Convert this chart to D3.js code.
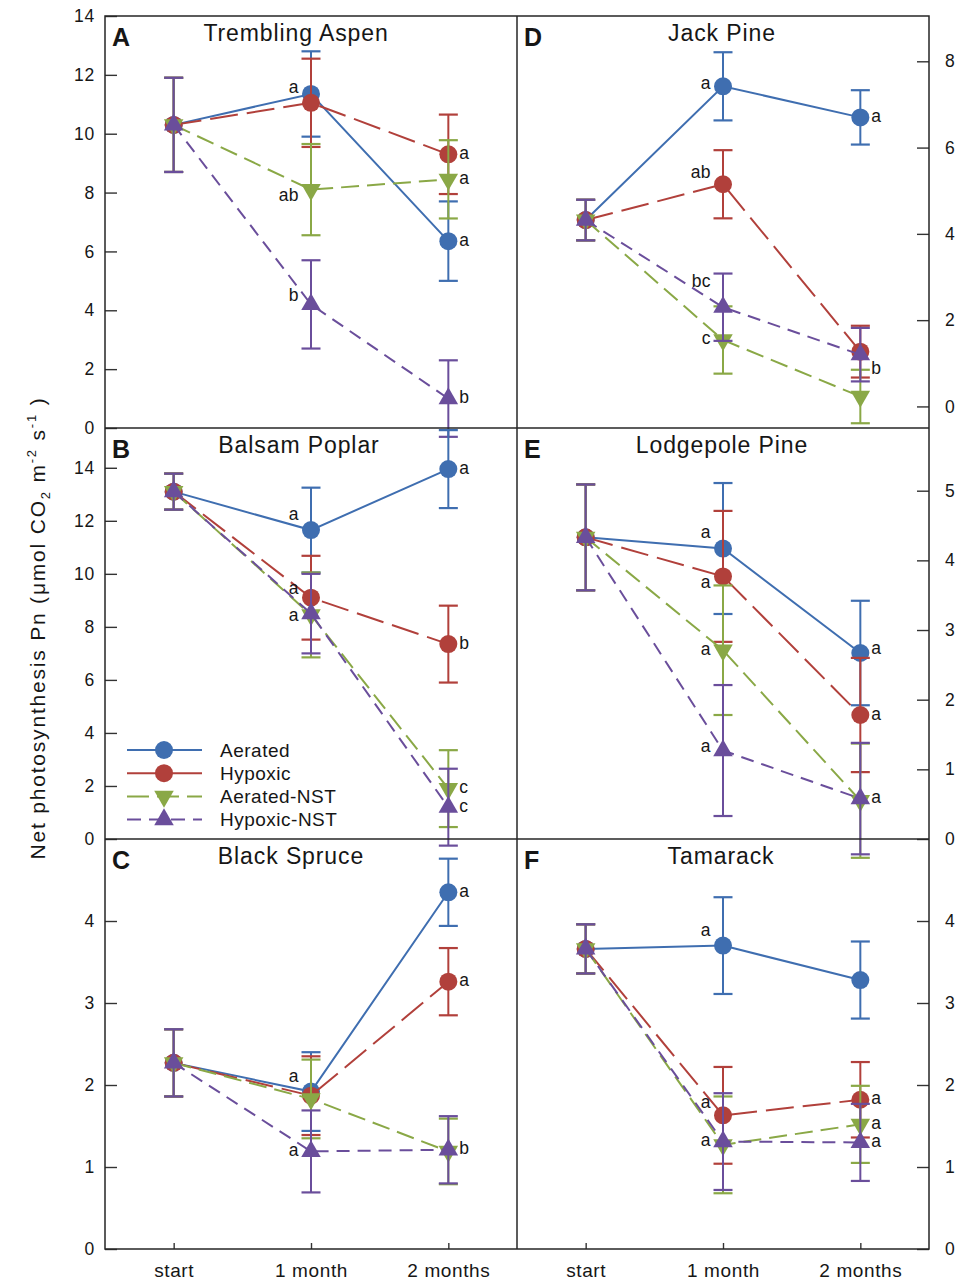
<!DOCTYPE html>
<html>
<head>
<meta charset="utf-8">
<script src="https://cdn.jsdelivr.net/npm/d3@7"></script>
<style>
  body { margin: 0; background: #fff; }
  svg { display: block; }
  text { font-family: "Liberation Sans", Arial, sans-serif; fill: #161616; }
</style>
</head>
<body>
<svg id="chart" width="956" height="1285"></svg>
<script>
// ---- data: net photosynthesis, mean and error per treatment (rows) and time (columns)
const timepoints = ["start", "1 month", "2 months"];
const treatments = ["Aerated", "Hypoxic", "Aerated-NST", "Hypoxic-NST"];

// Trembling Aspen
const aspenMeans  = [[10.3, 11.35, 6.35], [10.3, 11.05, 9.3], [10.3, 8.1, 8.45], [10.3, 4.2, 1.0]];
const aspenErrors = [[1.6, 1.45, 1.35], [1.6, 1.5, 1.35], [1.6, 1.55, 1.33], [1.6, 1.5, 1.3]];
const aspenLetters = [[0, 1, "a"], [2, 1, "ab"], [3, 1, "b"], [1, 2, "a"], [2, 2, "a"], [0, 2, "a"], [3, 2, "b"]];
const aspenTicks = [0, 2, 4, 6, 8, 10, 12, 14];

// Balsam Poplar
const poplarMeans  = [[13.1, 11.65, 13.95], [13.1, 9.1, 7.35], [13.1, 8.45, 1.9], [13.1, 8.5, 1.2]];
const poplarErrors = [[0.68, 1.6, 1.47], [0.68, 1.58, 1.45], [0.68, 1.6, 1.45], [0.68, 1.5, 1.45]];
const poplarLetters = [[0, 1, "a"], [1, 1, "a"], [3, 1, "a"], [0, 2, "a"], [1, 2, "b"], [2, 2, "c"], [3, 2, "c"]];
const poplarTicks = [0, 2, 4, 6, 8, 10, 12, 14];

// Black Spruce
const spruceMeans  = [[2.27, 1.92, 4.35], [2.27, 1.87, 3.26], [2.27, 1.83, 1.19], [2.27, 1.19, 1.21]];
const spruceErrors = [[0.41, 0.48, 0.41], [0.41, 0.48, 0.41], [0.41, 0.48, 0.4], [0.41, 0.5, 0.41]];
const spruceLetters = [[0, 1, "a"], [3, 1, "a"], [0, 2, "a"], [1, 2, "a"], [3, 2, "b"]];
const spruceTicks = [0, 1, 2, 3, 4];

// Jack Pine
const jackMeans  = [[4.32, 7.42, 6.7], [4.32, 5.15, 1.27], [4.32, 1.54, 0.23], [4.32, 2.3, 1.2]];
const jackErrors = [[0.47, 0.79, 0.63], [0.47, 0.79, 0.6], [0.47, 0.78, 0.62], [0.47, 0.78, 0.62]];
const jackLetters = [[0, 1, "a"], [1, 1, "ab"], [3, 1, "bc"], [2, 1, "c"], [0, 2, "a"], [1, 2, "b"]];
const jackTicks = [0, 2, 4, 6, 8];

// Lodgepole Pine
const lodgepoleMeans  = [[4.33, 4.17, 2.67], [4.33, 3.77, 1.78], [4.33, 2.71, 0.55], [4.33, 1.27, 0.58]];
const lodgepoleErrors = [[0.76, 0.94, 0.75], [0.76, 0.94, 0.82], [0.76, 0.93, 0.82], [0.76, 0.94, 0.8]];
const lodgepoleLetters = [[0, 1, "a"], [1, 1, "a"], [2, 1, "a"], [3, 1, "a"], [0, 2, "a"], [1, 2, "a"], [3, 2, "a"]];
const lodgepoleTicks = [0, 1, 2, 3, 4, 5];

// Tamarack
const tamarackMeans  = [[3.66, 3.7, 3.28], [3.66, 1.63, 1.82], [3.66, 1.27, 1.52], [3.66, 1.31, 1.3]];
const tamarackErrors = [[0.3, 0.59, 0.47], [0.3, 0.59, 0.46], [0.3, 0.59, 0.47], [0.3, 0.59, 0.47]];
const tamarackLetters = [[0, 1, "a"], [1, 1, "a"], [3, 1, "a"], [1, 2, "a"], [2, 2, "a"], [3, 2, "a"]];
const tamarackTicks = [0, 1, 2, 3, 4];

// ---- appearance
const colors = ["#3f6eb0", "#b1403b", "#8aa846", "#6a4e9b"];
const dashes = [null, "28,9", "18,8", "13,8"];
const legendDashes = [null, null, "22,8", "14,8"];
const symbols = ["circle", "circle", "down", "up"];

const colX = [[105, 517], [517, 929]];
const rowY = [[16, 428], [428, 839], [839, 1249]];

const panels = [
  { letter: "A", title: "Trembling Aspen", col: 0, row: 0, titleX: 296, domain: [0, 14],
    means: aspenMeans, errors: aspenErrors, letters: aspenLetters, ticks: aspenTicks,
    nudge: [-5, 7, -8, 0, 0, 0, 0] },
  { letter: "B", title: "Balsam Poplar", col: 0, row: 1, titleX: 299, domain: [0, 15.5],
    means: poplarMeans, errors: poplarErrors, letters: poplarLetters, ticks: poplarTicks,
    nudge: [-15, -8, 3, 0, 0, 0, 0], legend: true },
  { letter: "C", title: "Black Spruce", col: 0, row: 2, titleX: 291, domain: [0, 5],
    means: spruceMeans, errors: spruceErrors, letters: spruceLetters, ticks: spruceTicks,
    nudge: [-14, 0, 0, 0, 0], xAxis: true },
  { letter: "D", title: "Jack Pine", col: 1, row: 0, titleX: 722, domain: [-0.5, 9.05],
    means: jackMeans, errors: jackErrors, letters: jackLetters, ticks: jackTicks,
    nudge: [-2, -11, -25, 0, 0, 18] },
  { letter: "E", title: "Lodgepole Pine", col: 1, row: 1, titleX: 722, domain: [0, 5.9],
    means: lodgepoleMeans, errors: lodgepoleErrors, letters: lodgepoleLetters, ticks: lodgepoleTicks,
    nudge: [-15, 7, 0, -3, -4, 0, 0] },
  { letter: "F", title: "Tamarack", col: 1, row: 2, titleX: 721, domain: [0, 5],
    means: tamarackMeans, errors: tamarackErrors, letters: tamarackLetters, ticks: tamarackTicks,
    nudge: [-14, -12, 0, 0, 0, 0], xAxis: true }
];

const svg = d3.select("#chart");

function drawSymbol(g, kind, cx, cy, color) {
  if (kind === "circle") {
    g.append("circle").attr("cx", cx).attr("cy", cy).attr("r", 9).attr("fill", color);
  } else {
    const path = d3.symbol().type(d3.symbolTriangle).size(165)();
    g.append("path").attr("d", path).attr("fill", color)
      .attr("transform", `translate(${cx},${cy})` + (kind === "down" ? " rotate(180)" : ""));
  }
}

panels.forEach(p => {
  const [x0, x1] = colX[p.col];
  const [y0, y1] = rowY[p.row];
  const x = d3.scaleLinear().domain([-0.5, 2.5]).range([x0, x1]);
  const y = d3.scaleLinear().domain(p.domain).range([y1, y0]);
  const g = svg.append("g");

  // y axis: ticks point inward, labels outside
  if (p.col === 0) {
    const ax = d3.axisLeft(y).tickValues(p.ticks).tickSize(-12).tickPadding(10).tickFormat(d3.format("d"));
    g.append("g").attr("transform", `translate(${x0},0)`).call(ax);
  } else {
    const ax = d3.axisRight(y).tickValues(p.ticks).tickSize(-12).tickPadding(16).tickFormat(d3.format("d"));
    g.append("g").attr("transform", `translate(${x1},0)`).call(ax);
  }
  // x axis on the bottom row only
  if (p.xAxis) {
    const ax = d3.axisBottom(x).tickValues([0, 1, 2]).tickSize(-6).tickPadding(15)
      .tickFormat(i => timepoints[i]);
    const xg = g.append("g").attr("transform", `translate(0,${y1})`).call(ax);
    xg.selectAll("text").attr("font-size", 19).attr("letter-spacing", 0.6).attr("fill", "#161616");
  }
  g.selectAll(".domain").remove();
  g.selectAll(".tick line").attr("stroke", "#333").attr("stroke-width", 1.4);
  g.selectAll(".tick text").filter(function () { return !this.getAttribute("font-size"); })
    .attr("font-size", 17.5).attr("letter-spacing", 0.8).attr("fill", "#161616").attr("font-family", null);

  // series: line, error bars, markers
  p.means.forEach((vals, s) => {
    const color = colors[s];
    const sg = g.append("g");
    sg.append("path")
      .attr("d", d3.line().x((d, i) => x(i)).y(d => y(d))(vals))
      .attr("fill", "none").attr("stroke", color).attr("stroke-width", 2)
      .attr("stroke-dasharray", dashes[s]);
    vals.forEach((v, i) => {
      const e = p.errors[s][i];
      const cx = x(i), top = y(v + e), bot = y(v - e);
      sg.append("line").attr("x1", cx).attr("x2", cx).attr("y1", top).attr("y2", bot)
        .attr("stroke", color).attr("stroke-width", 2);
      [top, bot].forEach(cy => sg.append("line")
        .attr("x1", cx - 9.5).attr("x2", cx + 9.5).attr("y1", cy).attr("y2", cy)
        .attr("stroke", color).attr("stroke-width", 2.2));
    });
    vals.forEach((v, i) => drawSymbol(sg, symbols[s], x(i), y(v), color));
  });

  // significance letters
  p.letters.forEach(([s, i, txt], k) => {
    const px = x(i), py = y(p.means[s][i]) + p.nudge[k] + 4.5;
    g.append("text")
      .attr("x", i === 1 ? px - 12 : px + 11).attr("y", py)
      .attr("text-anchor", i === 1 ? "end" : "start")
      .attr("font-size", 17.5).attr("letter-spacing", 0.4).text(txt);
  });

  // panel letter and title
  g.append("text").attr("x", x0 + 7).attr("y", y0 + 30).attr("font-size", 25)
    .attr("font-weight", "bold").text(p.letter);
  g.append("text").attr("x", p.titleX).attr("y", y0 + 25).attr("text-anchor", "middle")
    .attr("font-size", 23).attr("letter-spacing", 0.9).text(p.title);

  // legend
  if (p.legend) {
    treatments.forEach((name, s) => {
      const ly = 750 + s * 23.2;
      const lg = g.append("g");
      lg.append("line").attr("x1", 127).attr("x2", 202).attr("y1", ly).attr("y2", ly)
        .attr("stroke", colors[s]).attr("stroke-width", 2).attr("stroke-dasharray", legendDashes[s]);
      drawSymbol(lg, symbols[s], 164, ly, colors[s]);
      lg.append("text").attr("x", 220).attr("y", ly + 6.8).attr("font-size", 19)
        .attr("letter-spacing", 0.5).text(name);
    });
  }
});

// panel frames
const frame = svg.append("g").attr("fill", "none").attr("stroke", "#262626").attr("stroke-width", 1.5);
frame.append("rect").attr("x", 105).attr("y", 16).attr("width", 824).attr("height", 1233);
frame.append("line").attr("x1", 517).attr("x2", 517).attr("y1", 16).attr("y2", 1249);
frame.append("line").attr("x1", 105).attr("x2", 929).attr("y1", 428).attr("y2", 428);
frame.append("line").attr("x1", 105).attr("x2", 929).attr("y1", 839).attr("y2", 839);

// shared y-axis title
const yl = svg.append("text").attr("transform", "translate(45,628) rotate(-90)")
  .attr("text-anchor", "middle").attr("font-size", 21).attr("letter-spacing", 1.8);
yl.append("tspan").text("Net photosynthesis Pn (μmol CO");
yl.append("tspan").attr("dy", 5).attr("font-size", 13).text("2");
yl.append("tspan").attr("dy", -5).text(" m");
yl.append("tspan").attr("dy", -9).attr("font-size", 13).text("-2");
yl.append("tspan").attr("dy", 9).text(" s");
yl.append("tspan").attr("dy", -9).attr("font-size", 13).text("-1");
yl.append("tspan").attr("dy", 9).text(" )");
</script>
</body>
</html>
